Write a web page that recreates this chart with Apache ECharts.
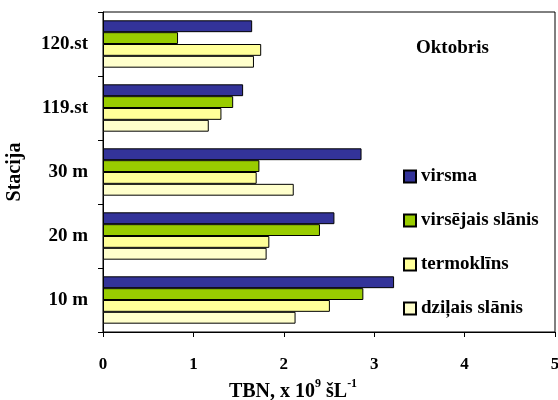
<!DOCTYPE html>
<html>
<head>
<meta charset="utf-8">
<script src="https://cdn.jsdelivr.net/npm/echarts@6/dist/echarts.min.js"></script>
<style>
  html, body { margin: 0; padding: 0; background: #fff; }
  #chart { width: 558px; height: 400px; }
</style>
</head>
<body>
<div id="chart"></div>
<script>
// Stations, bottom to top on the category axis
const stations = ['10 m', '20 m', '30 m', '119.st', '120.st'];

// TBN per layer, x 10^9 cells per litre
const virsma = [3.22, 2.56, 2.86, 1.55, 1.65];
const virsejais = [2.88, 2.40, 1.73, 1.44, 0.83];
const termoklins = [2.51, 1.84, 1.70, 1.31, 1.75];
const dzilais = [2.13, 1.81, 2.11, 1.17, 1.67];

const seriesNames = ['virsma', 'virsējais slānis', 'termoklīns', 'dziļais slānis'];
const xTicks = [0, 1, 2, 3, 4, 5];

const FONT = '"Liberation Serif", "Times New Roman", serif';

function barSeries(name, data, color) {
  return {
    name: name,
    type: 'bar',
    data: data,
    barGap: '0%',
    barCategoryGap: '26%',
    itemStyle: { color: color, borderColor: '#000', borderWidth: 1 }
  };
}

const chart = echarts.init(document.getElementById('chart'), null, { renderer: 'canvas' });

chart.setOption({
  animation: false,
  backgroundColor: '#fff',
  textStyle: { fontFamily: FONT },
  title: {
    text: 'Oktobris',
    left: 411,
    top: 34,
    textStyle: { fontFamily: FONT, fontWeight: 'bold', fontSize: 19, color: '#000' }
  },
  legend: {
    orient: 'vertical',
    left: 398,
    top: 162,
    icon: 'rect',
    itemWidth: 12,
    itemHeight: 12,
    itemGap: 25,
    data: seriesNames,
    textStyle: { fontFamily: FONT, fontWeight: 'bold', fontSize: 19, color: '#000' }
  },
  grid: {
    left: 103,
    right: 3,
    top: 12,
    bottom: 68,
    outerBoundsMode: 'none',
    containLabel: false,
    show: true,
    borderColor: '#000',
    borderWidth: 1
  },
  xAxis: {
    type: 'value',
    min: xTicks[0],
    max: xTicks[xTicks.length - 1],
    interval: 1,
    name: '{t|TBN, x 10}{s|9}{t| šL}{s|-1}',
    nameLocation: 'middle',
    nameGap: 44,
    nameTextStyle: {
      padding: [0, 72, 0, 0],
      rich: {
        t: { fontFamily: FONT, fontWeight: 'bold', fontSize: 20, color: '#000', verticalAlign: 'bottom', lineHeight: 24 },
        s: { fontFamily: FONT, fontWeight: 'bold', fontSize: 12, color: '#000', verticalAlign: 'top', lineHeight: 24, padding: [0, 0, 10, 0] }
      }
    },
    axisLine: { show: true, lineStyle: { color: '#000', width: 1 } },
    axisTick: { show: true, inside: false, length: 5, lineStyle: { color: '#000' } },
    axisLabel: { margin: 24, fontFamily: FONT, fontWeight: 'bold', fontSize: 17, color: '#000' },
    splitLine: { show: false }
  },
  yAxis: {
    type: 'category',
    data: stations,
    name: 'Stacija',
    nameLocation: 'middle',
    nameRotate: 90,
    nameGap: 78,
    nameTextStyle: { fontFamily: FONT, fontWeight: 'bold', fontSize: 20, color: '#000' },
    axisLine: { show: true, lineStyle: { color: '#000', width: 1 } },
    axisTick: { show: true, inside: false, length: 5, alignWithLabel: false, lineStyle: { color: '#000' } },
    axisLabel: { margin: 15, fontFamily: FONT, fontWeight: 'bold', fontSize: 19, color: '#000' },
    splitLine: { show: false }
  },
  // first series sits at the top of each group
  series: [
    barSeries(seriesNames[0], virsma, '#333399'),
    barSeries(seriesNames[1], virsejais, '#99CC00'),
    barSeries(seriesNames[2], termoklins, '#FFFF99'),
    barSeries(seriesNames[3], dzilais, '#FFFFCC')
  ]
});
</script>
</body>
</html>
